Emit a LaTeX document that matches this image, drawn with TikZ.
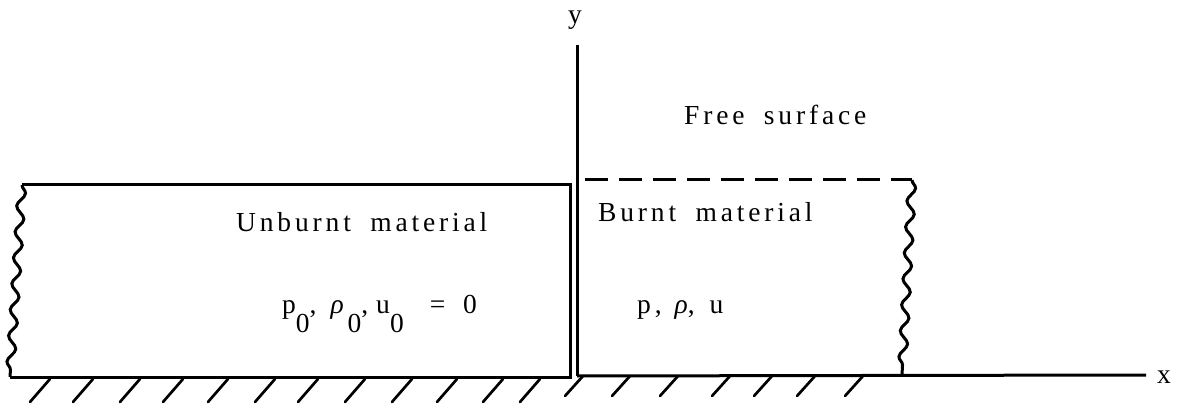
\documentclass[tikz,border=0pt]{standalone}
\usepackage{fontspec}
\setmainfont{Liberation Serif}
\newfontfamily\tw[LetterSpace=14,WordSpace=1.8]{Liberation Serif}
\usetikzlibrary{decorations.pathmorphing}
\newcommand{\sbz}{\raisebox{-19pt}{0}}
\newcommand{\rhoc}{\textit{ρ}}
\begin{document}
\begin{tikzpicture}[x=1pt,y=-1pt,
  wall/.style={line width=3pt},
  lab/.style={inner sep=0pt,font=\tw\fontsize{27.5}{31}\selectfont},
  wavy/.style={wall,decorate,decoration={snake,segment length=26pt,amplitude=4pt}},
  hatch/.style={line width=2.7pt,line cap=round}]
\useasboundingbox (0,0) rectangle (1179,406);
% coordinates
\coordinate (uTL) at (22,185);
\coordinate (uTR) at (570,185);
\coordinate (uBR) at (570,377);
\coordinate (uBL) at (10,377);
\coordinate (bTL) at (585,180);
\coordinate (bTR) at (912,180);
\coordinate (bBR) at (902,375);
\coordinate (ytop) at (577,45);
\coordinate (org) at (577,376);
\coordinate (xend) at (1146,375);
% unburnt box
\draw[wall] (uTL) -- (uTR) -- (uBR) -- (uBL);
\draw[wavy] (uTL) -- (uBL);
% burnt region
\draw[wall,dash pattern=on 23pt off 11pt] (bTL) -- (bTR);
\draw[wavy] (bTR) -- (bBR);
% axes
\draw[wall] (ytop) -- (org);
\draw[wall] (org) -- (xend);
\node[lab] (ylab) at (575,20) {y};
\node[lab,anchor=west] (xlab) at (1157,377) {x};
% hatching
\foreach \hx in {50,93,140,183,228,275,318,365,412,457,503,540}
  \draw[hatch] (\hx,379) -- ++(-20,23);
\foreach \hx in {583,630,678,730,772,815,863}
  \draw[hatch] (\hx,376) -- ++(-18,20);
% labels
\node[lab,anchor=base west] (free) at (684,125) {Free surface};
\node[lab,anchor=base west] (unb) at (236,232) {Unburnt material};
\node[lab,anchor=base west] (brn) at (598,222) {Burnt material};
\node[lab,anchor=base west] (st0) at (282,313)
  {p\sbz,\hspace{14pt}\rhoc\sbz,\hspace{8pt}u\sbz\hspace{26pt}=\hspace{18pt}0};
\node[lab,anchor=base west] (st1) at (637,313) {p,\hspace{13pt}\rhoc,\hspace{15pt}u};
\end{tikzpicture}
\end{document}
